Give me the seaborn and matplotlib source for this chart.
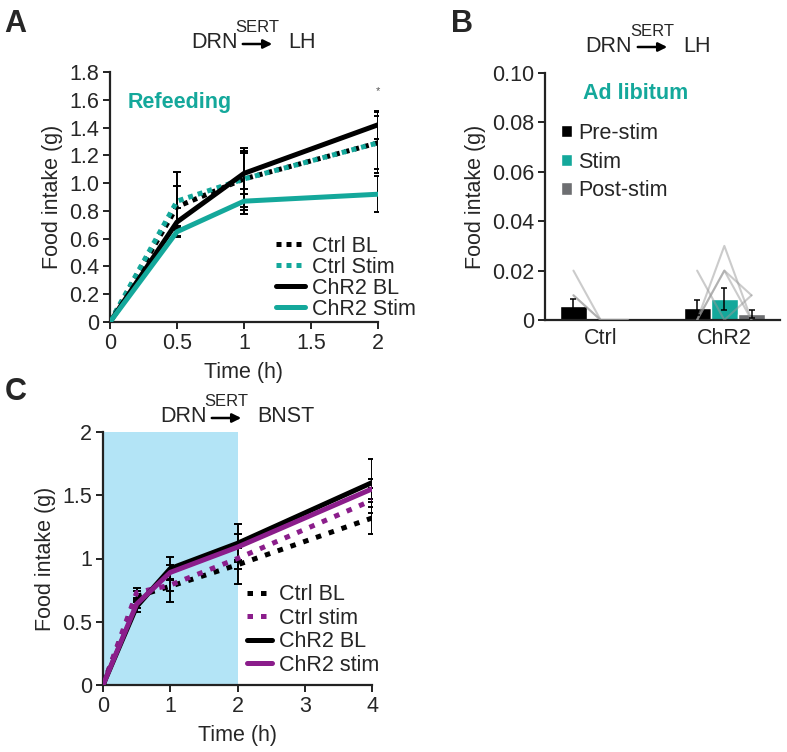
import numpy as np
import pandas as pd
import seaborn as sns
import matplotlib.pyplot as plt

sns.set_style('ticks')
plt.rcParams['font.family'] = ['Liberation Sans', 'DejaVu Sans']

TEAL = '#14a89b'
PURPLE = '#8b1d8b'
GREY = '#6d6e71'

# ---- panel A: refeeding, DRN SERT -> LH ----
time_a = [0, 0.5, 1, 2]
a_names = ['Ctrl BL', 'Ctrl Stim', 'ChR2 BL', 'ChR2 Stim']
a_ctrl_bl = [0, 0.83, 1.03, 1.29]
a_ctrl_stim = [0, 0.87, 1.03, 1.29]
a_chr2_bl = [0, 0.72, 1.07, 1.42]
a_chr2_stim = [0, 0.65, 0.87, 0.92]
a_err_ctrl_bl = [0, 0.15, 0.20, 0.19]
a_err_ctrl_stim = [0, 0.21, 0.22, 0.22]
a_err_chr2_bl = [0, 0.10, 0.15, 0.10]
a_err_chr2_stim = [0, 0.04, 0.09, 0.13]

# ---- panel B: ad libitum ----
groups_b = ['Ctrl', 'ChR2']
phases_b = ['Pre-stim', 'Stim', 'Post-stim']
b_ctrl = [0.0055, 0, 0]
b_chr2 = [0.005, 0.0085, 0.0025]
b_err_ctrl = [0.003, 0, 0]
b_err_chr2 = [0.003, 0.0045, 0.0017]
# individual animals (pre, stim, post)
b_ctrl_subj = [[0.02, 0, 0], [0.01, 0, 0], [0.01, 0, 0]]
b_chr2_subj = [[0.02, 0, 0.01], [0, 0.03, 0], [0, 0.02, 0.01], [0, 0.02, 0]]

# ---- panel C: DRN SERT -> BNST ----
time_c = [0, 0.5, 1, 2, 4]
c_names = ['Ctrl BL', 'Ctrl stim', 'ChR2 BL', 'ChR2 stim']
c_ctrl_bl = [0, 0.70, 0.78, 0.95, 1.32]
c_ctrl_stim = [0, 0.73, 0.79, 1.00, 1.46]
c_chr2_bl = [0, 0.62, 0.92, 1.12, 1.60]
c_chr2_stim = [0, 0.64, 0.89, 1.09, 1.55]
c_err_ctrl_bl = [0, 0.04, 0.12, 0.15, 0.13]
c_err_ctrl_stim = [0, 0.04, 0.05, 0.08, 0.10]
c_err_chr2_bl = [0, 0.04, 0.09, 0.15, 0.19]
c_err_chr2_stim = [0, 0.03, 0.06, 0.10, 0.08]

W, H = 787, 752
FS = 15.5
fig = plt.figure(figsize=(W / 100, H / 100), dpi=100)


def box(l, t, r, b):
    return [l / W, 1 - b / H, (r - l) / W, (b - t) / H]


def fx(x):
    return x / W


def fy(y):
    return 1 - y / H


def route(x_drn, x_arrow0, x_arrow1, x_dst, y, dst):
    fig.text(fx(x_drn), fy(y), 'DRN', ha='right', va='center', fontsize=FS)
    fig.text(fx((x_arrow0 + x_arrow1) / 2), fy(y - 15), 'SERT', ha='center', va='center', fontsize=12)
    fig.text(fx(x_dst), fy(y), dst, ha='left', va='center', fontsize=FS)
    fig.patches.append(plt.matplotlib.patches.FancyArrowPatch(
        (fx(x_arrow0), fy(y + 1)), (fx(x_arrow1), fy(y + 1)), transform=fig.transFigure,
        arrowstyle='-|>', mutation_scale=13, lw=1.8, color='k'))


def style_ax(ax):
    sns.despine(ax=ax)
    for s in ['left', 'bottom']:
        ax.spines[s].set_linewidth(1.6)
        ax.spines[s].set_color('#222222')
    ax.tick_params(labelsize=FS, width=1.4, length=5, color='#222222', pad=3)


# ================= A =================
axA = fig.add_axes(box(110, 72, 378, 322))
a_series = [a_ctrl_bl, a_ctrl_stim, a_chr2_bl, a_chr2_stim]
a_errs = [a_err_ctrl_bl, a_err_ctrl_stim, a_err_chr2_bl, a_err_chr2_stim]
a_cols = ['k', TEAL, 'k', TEAL]
a_ls = [(0, (1, 1)), (0, (1, 1)), '-', '-']
for name, vals, err, c, ls in zip(a_names, a_series, a_errs, a_cols, a_ls):
    axA.errorbar(time_a[1:], vals[1:], yerr=err[1:], fmt='none', ecolor='k',
                 elinewidth=1.4, capsize=3, capthick=1.4, zorder=1)
    sns.lineplot(x=time_a, y=vals, ax=axA, color=c, lw=3.6, linestyle=ls,
                 label=name, zorder=3)
axA.set_xlim(0, 2)
axA.set_ylim(0, 1.8)
axA.set_xticks([0, 0.5, 1, 1.5, 2])
axA.set_xticklabels(['0', '0.5', '1', '1.5', '2'])
axA.set_yticks(np.arange(0, 1.81, 0.2))
axA.set_yticklabels(['0'] + ['%.1f' % v for v in np.arange(0.2, 1.81, 0.2)])
axA.set_xlabel('Time (h)', fontsize=FS, labelpad=6)
axA.set_ylabel('Food intake (g)', fontsize=FS, labelpad=4)
style_ax(axA)
axA.text(2, 1.66, '*', ha='center', va='center', fontsize=8, color='#555555')
axA.text(0.13, 1.58, 'Refeeding', color=TEAL, fontsize=FS, fontweight='bold', va='center')
axA.legend(loc='lower left', bbox_to_anchor=(fx(276), fy(320)), bbox_transform=fig.transFigure,
           frameon=False, fontsize=FS, borderpad=0, borderaxespad=0, handlelength=1.35,
           handletextpad=0.3, labelspacing=0.0)

# ================= B =================
axB = fig.add_axes(box(545, 73, 780, 320))
df_b = pd.DataFrame({
    'group': np.repeat(groups_b, len(phases_b)),
    'phase': phases_b * len(groups_b),
    'intake': b_ctrl + b_chr2,
})
sns.barplot(data=df_b, x='group', y='intake', hue='phase', order=groups_b,
            hue_order=phases_b, palette=['k', TEAL, GREY], width=0.66,
            errorbar=None, ax=axB, saturation=1, zorder=2)
bw = 0.66 / 3
offs = [-bw, 0, bw]
for gi, (vals, errs, subj) in enumerate([(b_ctrl, b_err_ctrl, b_ctrl_subj),
                                         (b_chr2, b_err_chr2, b_chr2_subj)]):
    xs = [gi + o for o in offs]
    for s in subj:
        sns.lineplot(x=xs, y=s, ax=axB, color='#999999', alpha=0.5, lw=1.5,
                     zorder=4, legend=False, sort=False, estimator=None)
    for x, v, e in zip(xs, vals, errs):
        if e > 0:
            axB.errorbar([x], [v], yerr=[e], fmt='none', ecolor='k', elinewidth=1.1,
                         capsize=2.5, capthick=1.1, zorder=5)
axB.set_xlim(-0.45, 1.45)
axB.set_ylim(0, 0.1)
axB.set_yticks(np.arange(0, 0.101, 0.02))
axB.set_yticklabels(['0', '0.02', '0.04', '0.06', '0.08', '0.10'])
axB.set_xlabel('')
axB.set_ylabel('Food intake (g)', fontsize=FS, labelpad=4)
style_ax(axB)
axB.tick_params(axis='x', length=0, pad=6)
axB.text(-0.14, 0.0915, 'Ad libitum', color=TEAL, fontsize=FS, fontweight='bold', va='center')
h, l = axB.get_legend_handles_labels()
axB.legend(h[:3], l[:3], loc='upper left', bbox_to_anchor=(fx(561), fy(123)),
           bbox_transform=fig.transFigure, frameon=False, fontsize=FS, borderpad=0,
           borderaxespad=0, handlelength=0.5, handleheight=0.5, handletextpad=0.3,
           labelspacing=0.35)

# ================= C =================
axC = fig.add_axes(box(103, 432, 372, 685))
axC.axvspan(0, 2, color='#b3e4f6', lw=0, zorder=0)
c_series = [c_ctrl_bl, c_ctrl_stim, c_chr2_bl, c_chr2_stim]
c_errs = [c_err_ctrl_bl, c_err_ctrl_stim, c_err_chr2_bl, c_err_chr2_stim]
c_cols = ['k', PURPLE, 'k', PURPLE]
c_ls = [(0, (1.1, 1.6)), (0, (1.1, 1.6)), '-', '-']
for name, vals, err, c, ls in zip(c_names, c_series, c_errs, c_cols, c_ls):
    axC.errorbar(time_c[1:], vals[1:], yerr=err[1:], fmt='none', ecolor='k',
                 elinewidth=1.4, capsize=3, capthick=1.4, zorder=1)
    sns.lineplot(x=time_c, y=vals, ax=axC, color=c, lw=3.6, linestyle=ls,
                 label=name, zorder=3)
axC.set_xlim(0, 4)
axC.set_ylim(0, 2)
axC.set_xticks([0, 1, 2, 3, 4])
axC.set_yticks([0, 0.5, 1, 1.5, 2])
axC.set_yticklabels(['0', '0.5', '1', '1.5', '2'])
axC.set_xlabel('Time (h)', fontsize=FS, labelpad=6)
axC.set_ylabel('Food intake (g)', fontsize=FS, labelpad=4)
style_ax(axC)
axC.legend(loc='lower left', bbox_to_anchor=(fx(247), fy(676)), bbox_transform=fig.transFigure,
           frameon=False, fontsize=FS, borderpad=0, borderaxespad=0, handlelength=1.15,
           handletextpad=0.35, labelspacing=0.12)

# titles with the projection arrow
route(238, 240, 275, 288, 43, 'LH')
route(632, 635, 670, 683, 46, 'LH')
route(207, 209, 244, 257, 417, 'BNST')

# panel letters
fig.text(fx(4), fy(24), 'A', fontsize=22, fontweight='bold', va='center')
fig.text(fx(451), fy(24), 'B', fontsize=22, fontweight='bold', va='center')
fig.text(fx(5), fy(392), 'C', fontsize=22, fontweight='bold', va='center')

fig.savefig('out.png', dpi=100)
